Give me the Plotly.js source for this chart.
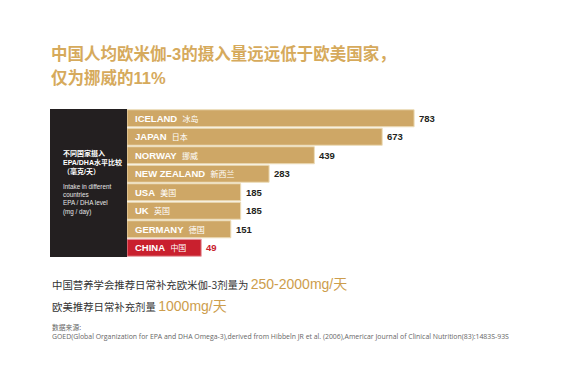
<!DOCTYPE html>
<html>
<head>
<meta charset="utf-8">
<script src="https://cdn.plot.ly/plotly-3.0.1.min.js"></script>
<style>
html,body{margin:0;padding:0;background:#fff;}
#chart{width:567px;height:375px;}
</style>
</head>
<body>
<div id="chart"></div>
<script>
// ---- data ----
const categories = ['ICELAND','JAPAN','NORWAY','NEW ZEALAND','USA','UK','GERMANY','CHINA'];
const categoriesZh = ['冰岛','日本','挪威','新西兰','美国','英国','德国','中国'];
const intake = [783, 673, 439, 283, 185, 185, 151, 49];
const titleLines = ['中国人均欧米伽-3的摄入量远远低于欧美国家，', '仅为挪威的11%'];
const panelZh = ['不同国家摄入', 'EPA/DHA水平比较', '（毫克/天）'];
const panelEn = ['Intake in different', 'countries', 'EPA / DHA level', '(mg / day)'];
const noteCn = '中国营养学会推荐日常补充欧米伽-3剂量为';
const noteCnValue = '250-2000mg/天';
const noteWest = '欧美推荐日常补充剂量';
const noteWestValue = '1000mg/天';
const sourceLabel = '数据来源:';
const sourceText = 'GOED(Global Organization for EPA and DHA Omega-3),derived from Hibbeln JR et al. (2006),Americar Journal of Clinical Nutrition(83):1483S-93S';

// ---- styling / layout ----
const W = 567, H = 375;
const M = {l: 127, r: 87, t: 109, b: 118};
const PW = W - M.l - M.r, PH = H - M.t - M.b;
const px = x => (x - M.l) / PW;
const py = y => (H - M.b - y) / PH;
const axisFloor = -207;
const GOLD = '#cea766', GOLD_EDGE = '#ecdcb8', RED = '#c9202e';
const LAT = 'Liberation Sans, Arial, Noto Sans CJK SC, sans-serif';
const CJK = 'Noto Sans CJK SC, sans-serif';
const MIX = 'Liberation Sans, Arial, Noto Sans CJK SC, sans-serif';

const isChina = categories.map(c => c === 'CHINA');

const trace = {
  type: 'bar',
  orientation: 'h',
  y: categories,
  x: intake.map(v => v - axisFloor),
  base: axisFloor,
  marker: {
    color: isChina.map(c => c ? RED : GOLD),
    line: {color: isChina.map(c => c ? '#e8a0a6' : GOLD_EDGE), width: 1}
  },
  hoverinfo: 'skip'
};

const annotations = [];
categories.forEach((c, i) => {
  annotations.push({
    xref: 'x', yref: 'y', x: axisFloor, y: c, xanchor: 'left', yanchor: 'middle',
    xshift: 6, showarrow: false, align: 'left',
    text: '<b>' + c + '</b>  <span style="font-size:8px">' + categoriesZh[i] + '</span>',
    font: {family: LAT, size: 9.5, color: '#ffffff'}
  });
  annotations.push({
    xref: 'x', yref: 'y', x: intake[i], y: c, xanchor: 'left', yanchor: 'middle',
    xshift: 3, showarrow: false,
    text: '<b>' + intake[i] + '</b>',
    font: {family: LAT, size: 9.5, color: isChina[i] ? RED : '#231f20'}
  });
});

// title
annotations.push({xref:'paper', yref:'paper', x:px(49), y:py(54), xanchor:'left', yanchor:'middle', showarrow:false,
  text:'<b>' + titleLines[0] + '</b>', font:{family:MIX, size:16.5, color:'#d6aa5c'}});
annotations.push({xref:'paper', yref:'paper', x:px(49), y:py(77), xanchor:'left', yanchor:'middle', showarrow:false,
  text:'<b>' + titleLines[1] + '</b>', font:{family:MIX, size:16.5, color:'#d6aa5c'}});

// panel text
annotations.push({xref:'paper', yref:'paper', x:px(61), y:py(147), xanchor:'left', yanchor:'top', showarrow:false, align:'left',
  text:'<b>' + panelZh.join('<br>') + '</b>', font:{family:MIX, size:7, color:'#ffffff'}});
annotations.push({xref:'paper', yref:'paper', x:px(61), y:py(181), xanchor:'left', yanchor:'top', showarrow:false, align:'left',
  text:panelEn.join('<br>'), font:{family:LAT, size:6.3, color:'#e6e6e6'}});

// notes
const valSpan = t => ' <span style="font-size:14px;color:#cd9d4c;font-family:Liberation Sans, Arial, Noto Sans CJK SC, sans-serif">' + t + '</span>';
annotations.push({xref:'paper', yref:'paper', x:px(50), y:py(284), xanchor:'left', yanchor:'middle', showarrow:false,
  text: noteCn + valSpan(noteCnValue), font:{family:CJK, size:10.4, color:'#333333'}});
annotations.push({xref:'paper', yref:'paper', x:px(50), y:py(306), xanchor:'left', yanchor:'middle', showarrow:false,
  text: noteWest + valSpan(noteWestValue), font:{family:CJK, size:10.4, color:'#333333'}});
annotations.push({xref:'paper', yref:'paper', x:px(50), y:py(327), xanchor:'left', yanchor:'middle', showarrow:false,
  text: sourceLabel, font:{family:CJK, size:6.8, color:'#666666'}});
annotations.push({xref:'paper', yref:'paper', x:px(50), y:py(336), xanchor:'left', yanchor:'middle', showarrow:false,
  text: sourceText, font:{family:'Open Sans, Noto Sans, sans-serif', size:6.9, color:'#666666'}});

const layout = {
  width: W, height: H,
  margin: M,
  paper_bgcolor: '#ffffff', plot_bgcolor: '#ffffff',
  showlegend: false,
  bargap: 0.08,
  xaxis: {range: [axisFloor, axisFloor + PW / 0.29], visible: false, fixedrange: true},
  yaxis: {autorange: 'reversed', visible: false, fixedrange: true},
  shapes: [{
    type: 'rect', xref: 'paper', yref: 'paper', x0: px(50), x1: 0, y0: 0, y1: 1,
    fillcolor: '#231f20', line: {width: 0}, layer: 'below'
  }],
  annotations: annotations
};

Plotly.newPlot('chart', [trace], layout, {displayModeBar: false, staticPlot: true});
</script>
</body>
</html>
